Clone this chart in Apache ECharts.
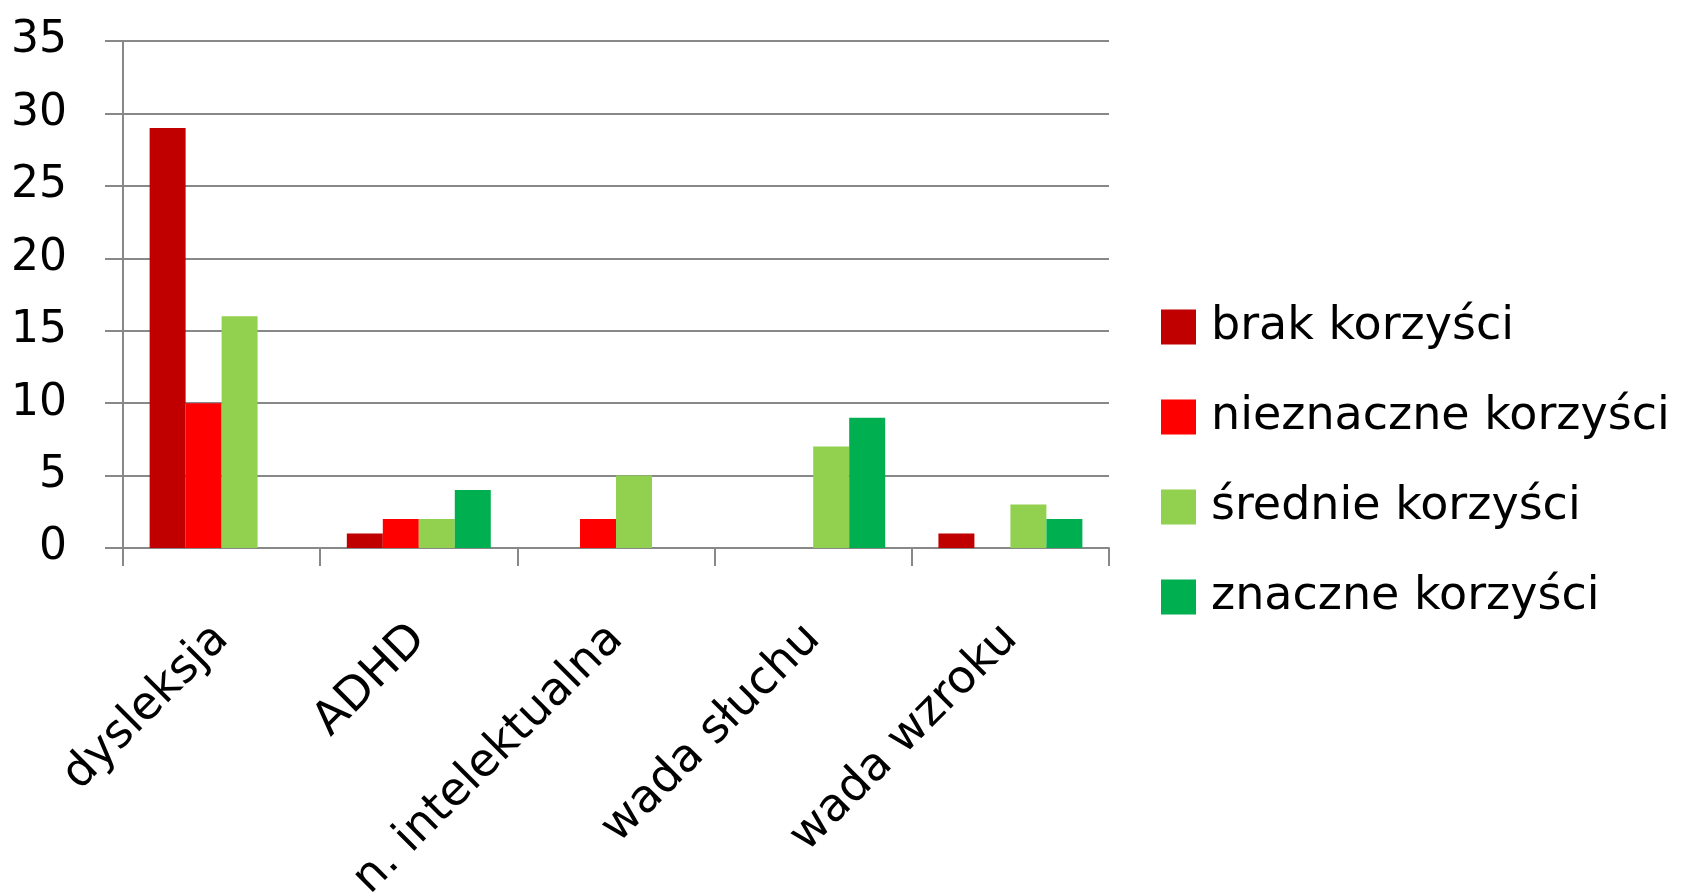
<!DOCTYPE html>
<html>
<head>
<meta charset="utf-8">
<script src="https://cdn.jsdelivr.net/npm/echarts@6/dist/echarts.min.js"></script>
<style>html,body{margin:0;padding:0;background:#fff;}#c{width:1683px;height:894px;}</style>
</head>
<body>
<div id="c"></div>
<script>
const categories = ['dysleksja', 'ADHD', 'n. intelektualna', 'wada słuchu', 'wada wzroku'];
const seriesNames = ['brak korzyści', 'nieznaczne korzyści', 'średnie korzyści', 'znaczne korzyści'];
const brak = [29, 1, 0, 0, 1];
const nieznaczne = [10, 2, 2, 0, 0];
const srednie = [16, 2, 5, 7, 3];
const znaczne = [0, 4, 0, 9, 2];
const colors = ['#C00000', '#FF0000', '#92D050', '#00B050'];
const values = [brak, nieznaczne, srednie, znaczne];

const font = 'DejaVu Sans';
const chart = echarts.init(document.getElementById('c'), null, {renderer: 'canvas'});
chart.setOption({
  animation: false,
  backgroundColor: '#fff',
  grid: {left: 123, right: 574, top: 41, bottom: 346, containLabel: false, outerBoundsMode: 'none'},
  legend: {
    orient: 'vertical',
    left: 1156,
    top: 299,
    itemWidth: 35,
    itemHeight: 35,
    itemGap: 44,
    icon: 'rect',
    textStyle: {fontFamily: font, fontSize: 46, color: '#000', padding: [0, 0, 0, 10]},
    data: seriesNames
  },
  xAxis: {
    type: 'category',
    data: categories,
    axisLine: {lineStyle: {color: '#888', width: 2}},
    axisTick: {show: true, length: 18, lineStyle: {color: '#888', width: 2}},
    axisLabel: {rotate: 45, margin: 84, fontFamily: font, fontSize: 46, color: '#000'}
  },
  yAxis: {
    type: 'value',
    min: 0, max: 35, interval: 5,
    axisLine: {show: true, lineStyle: {color: '#888', width: 2}},
    axisTick: {show: true, length: 18, lineStyle: {color: '#888', width: 2}},
    splitLine: {lineStyle: {color: '#888', width: 2}},
    axisLabel: {margin: 56, fontFamily: font, fontSize: 44, color: '#000', padding: [0, 0, 10, 0]}
  },
  series: seriesNames.map((n, i) => ({
    name: n,
    type: 'bar',
    data: values[i],
    itemStyle: {color: colors[i]},
    barGap: '0%',
    barCategoryGap: '27%'
  }))
});
</script>
</body>
</html>
